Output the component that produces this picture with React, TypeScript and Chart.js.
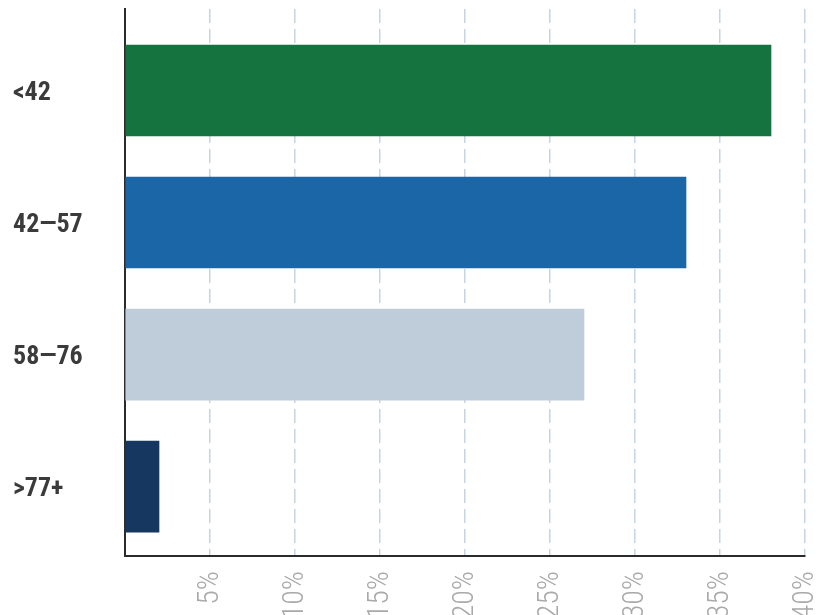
import React, { useEffect, useRef } from "react";
import { Chart, registerables } from "chart.js";

Chart.register(...registerables);

const categories = ["<42", "42—57", "58—76", ">77+"];
const values = [38, 33, 27, 2];
const barColors = ["#14733e", "#1a66a6", "#bfcddb", "#16375f"];
const xMin = 0;
const xMax = 40;
const xStep = 5;

const COND = "'Roboto Condensed', 'Liberation Sans Narrow', 'Arial Narrow', Roboto, sans-serif";

export default function App() {
  const ref = useRef<HTMLCanvasElement>(null);
  useEffect(() => {
    const chart = new Chart(ref.current!, {
      type: "bar",
      data: {
        datasets: [
          {
            data: values.map((v, i) => ({ x: v, y: i })),
            backgroundColor: barColors,
            barThickness: 91,
          },
        ],
      },
      options: {
        indexAxis: "y",
        animation: false,
        responsive: false,
        maintainAspectRatio: false,
        layout: { padding: { left: 13, top: 9, right: 27, bottom: 0 } },
        plugins: { legend: { display: false }, tooltip: { enabled: false } },
        scales: {
          x: {
            type: "linear",
            position: "bottom",
            min: xMin,
            max: xMax,
            ticks: {
              stepSize: xStep,
              maxRotation: 90,
              minRotation: 90,
              padding: 15,
              color: "#a9a9a9",
              font: { family: COND, size: 30, weight: "300 condensed" as any },
              callback: (v: any) => (v === 0 ? "" : v + "%"),
            },
            grid: { color: "#c6d4e3", lineWidth: 1.5, drawTicks: false },
            border: { display: true, color: "#2b2b2b", width: 2, dash: [14, 6] },
            afterFit: (s: any) => {
              s.height = 59;
              s.paddingLeft = 0;
              s.paddingRight = 0;
            },
          },
          y: {
            type: "linear",
            position: "left",
            min: -0.6175,
            max: 3.526,
            bounds: "data",
            offset: false,
            reverse: true,
            afterBuildTicks: (s: any) => {
              s.ticks = categories.map((_, i) => ({ value: i }));
            },
            ticks: {
              autoSkip: false,
              crossAlign: "far",
              labelOffset: 3,
              color: "#3b3b3b",
              font: { family: COND, size: 26, weight: "bold condensed" as any },
              callback: (v: any) => categories[v as number] ?? "",
            },
            grid: { display: false, drawTicks: false },
            border: { display: true, color: "#2b2b2b", width: 2 },
            afterFit: (s: any) => {
              s.width = 112;
              s.paddingTop = 0;
              s.paddingBottom = 0;
            },
          },
        },
      } as any,
    });
    return () => chart.destroy();
  }, []);
  return (
    <div style={{ position: "fixed", left: 0, top: 0, width: 832, height: 615, background: "#fff" }}>
      <canvas ref={ref} width={832} height={615} style={{ display: "block" }} />
    </div>
  );
}
